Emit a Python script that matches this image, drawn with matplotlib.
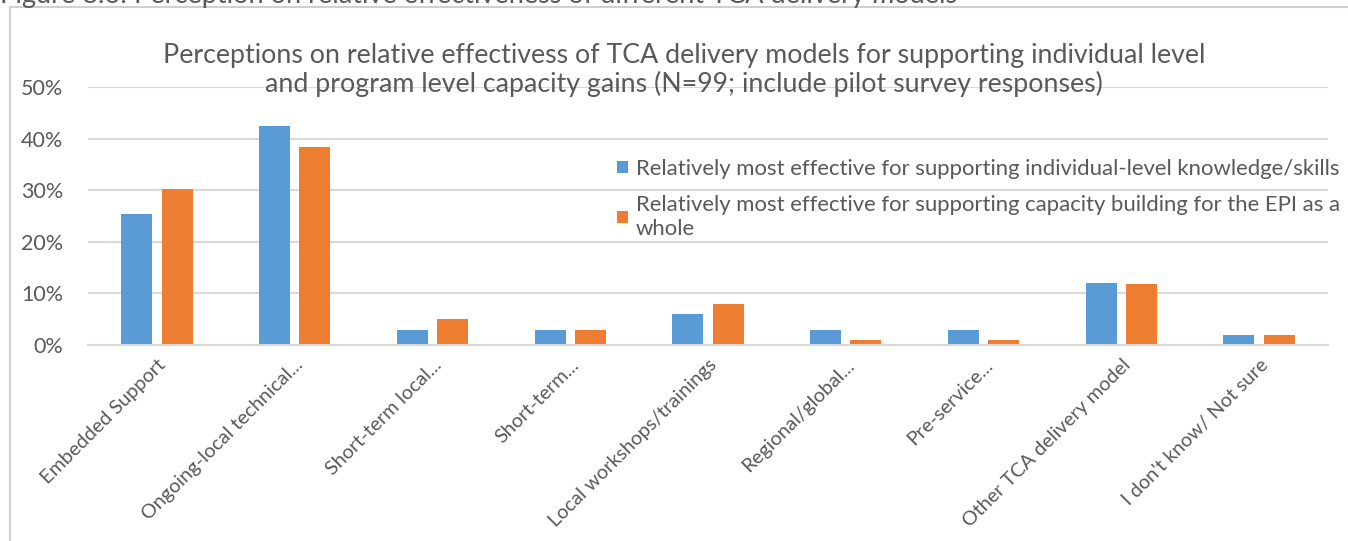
import numpy as np
import matplotlib.pyplot as plt
from matplotlib.patches import Rectangle

plt.rcParams['font.family'] = ['Lato', 'DejaVu Sans']

categories = ['Embedded Support', 'Ongoing-local technical...', 'Short-term local...',
              'Short-term...', 'Local workshops/trainings', 'Regional/global...',
              'Pre-service...', 'Other TCA delivery model', "I don't know/ Not sure"]
individual = [25.3, 42.4, 3.0, 3.0, 6.1, 3.0, 3.0, 12.1, 2.0]
program = [30.3, 38.4, 5.0, 3.0, 7.9, 1.0, 1.0, 11.8, 2.0]
series_names = ['Relatively most effective for supporting individual-level knowledge/skills',
                'Relatively most effective for supporting capacity building for the EPI as a\nwhole']
title = ('Perceptions on relative effectivess of TCA delivery models for supporting individual level\n'
         'and program level capacity gains (N=99; include pilot survey responses)')
caption = 'Figure 8.6: Perception on relative effectiveness of different TCA delivery models'

blue = '#5B9BD5'
orange = '#ED7D31'
text_col = '#595959'
grid_col = '#D9D9D9'

W, H = 1348, 541
fig = plt.figure(figsize=(W / 100, H / 100), dpi=100)

# chart frame (only left and top edges fall inside the picture)
fig.patches.append(Rectangle((10 / W, -0.1), 1.2, 1 - 7 / H + 0.1, transform=fig.transFigure,
                             fill=False, edgecolor='#D0D0D0', linewidth=1.5))
# caption of the figure, cut off by the top edge as in the source
fig.text(0, 1 - 3 / H, caption, fontsize=19.5, color=text_col, va='baseline', ha='left')

ax = fig.add_axes([88 / W, 1 - 345 / H, (1328 - 88) / W, (345 - 87) / H])

x = np.arange(len(categories))
w = 0.225
ax.bar(x - 0.146, individual, w, color=blue, label=series_names[0])
ax.bar(x + 0.146, program, w, color=orange, label=series_names[1])

ax.set_xlim(-0.5, len(categories) - 0.5)
ax.set_ylim(0, 50)
ax.set_yticks(np.arange(0, 51, 10))
ax.set_yticklabels([f'{v}%' for v in range(0, 51, 10)], fontsize=15.5, color=text_col)
ax.yaxis.grid(True, color=grid_col, linewidth=1.5)
ax.set_axisbelow(True)
ax.tick_params(axis='y', length=0, pad=18)
ax.tick_params(axis='x', length=0, pad=8)
ax.set_xticks(x)
ax.set_xticklabels(categories, rotation=45, ha='right', rotation_mode='anchor',
                   fontsize=14.3, color=text_col)
for s in ['top', 'right', 'left']:
    ax.spines[s].set_visible(False)
ax.spines['bottom'].set_color(grid_col)
ax.spines['bottom'].set_linewidth(1.5)

fig.text(684 / W, 1 - 92 / H, title, fontsize=19.3, color=text_col, ha='center', va='baseline',
         linespacing=1.12)

ax.legend(loc='upper left', bbox_to_anchor=(608 / W, 1 - 150 / H), bbox_transform=fig.transFigure,
          frameon=False, fontsize=15.9, labelcolor=text_col, handlelength=0.5, handleheight=0.5,
          handletextpad=0.35, labelspacing=0.75, borderaxespad=0)

fig.savefig('out.png', dpi=100)
